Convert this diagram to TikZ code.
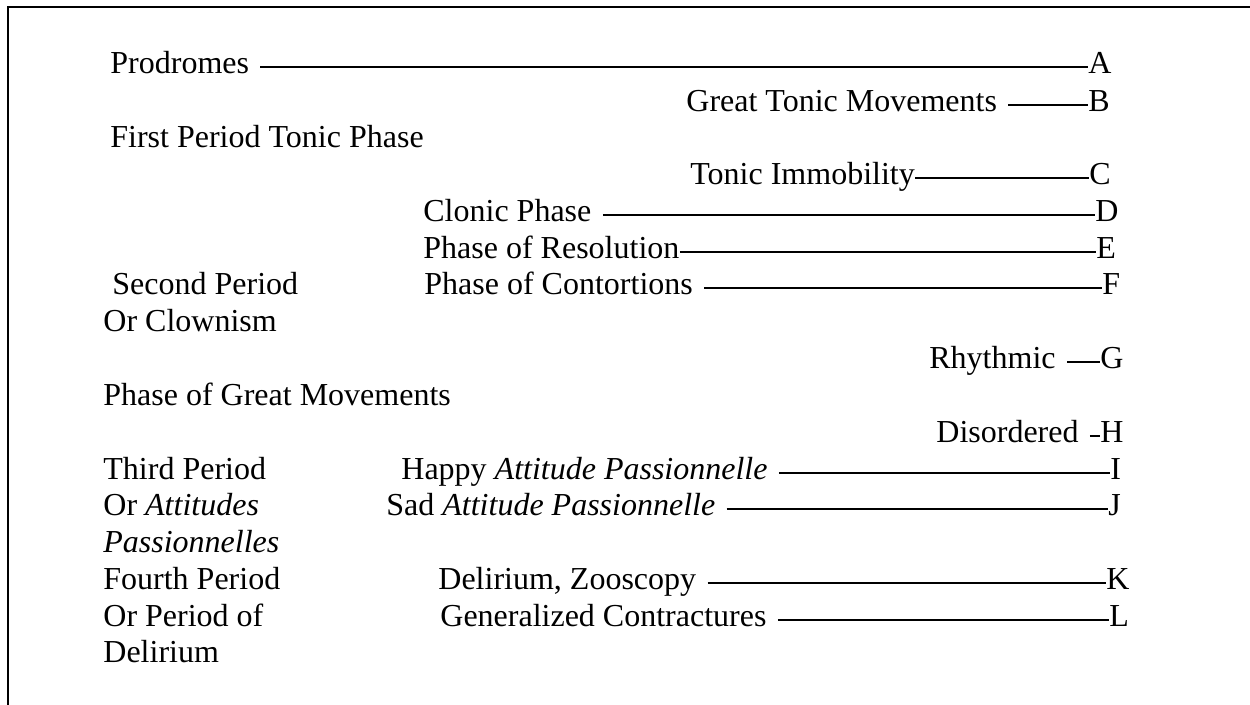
\documentclass[tikz,border=0pt]{standalone}
\usepackage{fontspec}
\setmainfont{Liberation Serif}
\usetikzlibrary{positioning,calc}
\tikzset{%
	lbl/.style  = {anchor=base west, inner sep=0pt, text height=7pt, text depth=0pt, font=\fontsize{16}{19}\selectfont},
	lead/.style = {line width=0.7pt},
	gap/.style  = {shorten <=5.5pt},
}

\begin{document}
\begin{tikzpicture}[x=0.5pt,y=-0.5pt]
		\useasboundingbox (0,0) rectangle (1250,705);
		\draw[line width=1pt] (8,705) -- (8,7) -- (1250,7);
		
		% left column
		\node[lbl] (prod) at (110,74) {Prodromes};
		\node[lbl] (first) at (110,148) {First Period Tonic Phase};
		\node[lbl] (second) at (112,295) {Second Period};
		\node[lbl] (clown) at (103,332) {Or Clownism};
		\node[lbl] (great) at (103,406) {Phase of Great Movements};
		\node[lbl] (third) at (103,480) {Third Period};
		\node[lbl] (att) at (103,516) {Or \emph{Attitudes}};
		\node[lbl] (pass) at (103,553) {\emph{Passionnelles}};
		\node[lbl] (fourth) at (103,590) {Fourth Period};
		\node[lbl] (orper) at (103,627) {Or Period of};
		\node[lbl] (delir) at (103,663) {Delirium};
		
		% phases
		\node[lbl] (tmov) at (686,112) {Great Tonic Movements};
		\node[lbl] (timm) at (690,185) {Tonic Immobility};
		\node[lbl] (clon) at (423,222) {Clonic Phase};
		\node[lbl] (reso) at (423,259) {Phase of Resolution};
		\node[lbl] (cont) at (424,295) {Phase of Contortions};
		\node[lbl] (rhy) at (929,369) {Rhythmic};
		\node[lbl] (dis) at (936,443) {Disordered};
		\node[lbl] (happy) at (401,480) {Happy \emph{Attitude Passionnelle}};
		\node[lbl] (sad) at (386,516) {Sad \emph{Attitude Passionnelle}};
		\node[lbl] (zoo) at (438,590) {Delirium, Zooscopy};
		\node[lbl] (contr) at (440,627) {Generalized Contractures};
		
		% letters
		\node[lbl] (A) at (1088,74) {A};
		\node[lbl] (B) at (1088,112) {B};
		\node[lbl] (C) at (1089,185) {C};
		\node[lbl] (D) at (1095,222) {D};
		\node[lbl] (E) at (1096,259) {E};
		\node[lbl] (F) at (1102,295) {F};
		\node[lbl] (G) at (1100,369) {G};
		\node[lbl] (H) at (1100,443) {H};
		\node[lbl] (I) at (1110,480) {I};
		\node[lbl] (J) at (1108,516) {J};
		\node[lbl] (K) at (1106,590) {K};
		\node[lbl] (L) at (1109,627) {L};
		
		\draw[lead,gap] (prod) -- (A);
		\draw[lead,gap] (tmov) -- (B);
		\draw[lead] (timm) -- (C);
		\draw[lead,gap] (clon) -- (D);
		\draw[lead] (reso) -- (E);
		\draw[lead,gap] (cont) -- (F);
		\draw[lead,gap] (rhy) -- (G);
		\draw[lead,gap] (dis) -- (H);
		\draw[lead,gap] (happy) -- (I);
		\draw[lead,gap] (sad) -- (J);
		\draw[lead,gap] (zoo) -- (K);
		\draw[lead,gap] (contr) -- (L);
\end{tikzpicture}
\end{document}
